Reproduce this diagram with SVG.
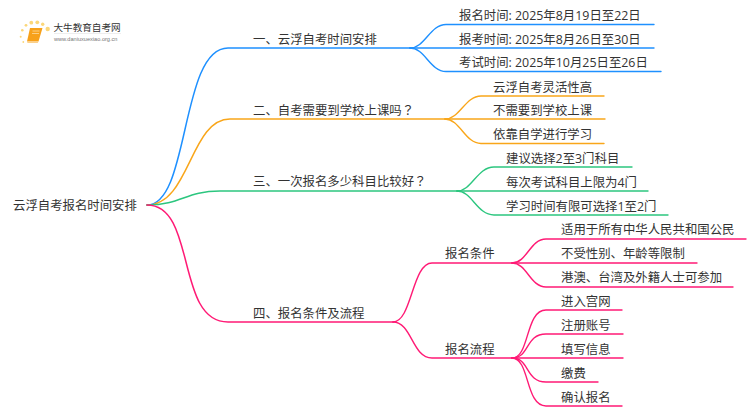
<svg xmlns="http://www.w3.org/2000/svg" width="750" height="410" viewBox="0 0 750 410">
<style>
text{font-family:"Open Sans","Noto Sans CJK SC",sans-serif;font-size:12.4px;fill:#333}
.q{font-family:"Noto Sans CJK TC",sans-serif}
.c{fill:none;stroke-width:1.4;stroke-linecap:round}
.m{stroke-width:1.5}
.b{stroke:#1e90ff}.o{stroke:#f9a61a}.g{stroke:#2cc67f}.p{stroke:#ff1a75}
</style>
<rect width="750" height="410" fill="#fff"/>
<g id="connectors">
<path class="c m b" d="M147 205C190 205 180 48 228 48H410"/>
<path class="c m o" d="M147 205C190 205 190 119 230 119H445"/>
<path class="c m g" d="M147 205C182 205 185 191 220 191H457"/>
<path class="c m p" d="M147 205C197 205 175 322 228 322H393"/>
<path class="c b" d="M410 48C425 48 430 24.500 446 24.500H654"/>
<path class="c b" d="M410 48H654"/>
<path class="c b" d="M410 48C425 48 430 71.500 446 71.500H661"/>
<path class="c o" d="M445 119C460 119 465 96 481 96H604"/>
<path class="c o" d="M445 119H605"/>
<path class="c o" d="M445 119C460 119 465 143.500 481 143.500H604"/>
<path class="c g" d="M457 191C472 191 477 167 494 167H632"/>
<path class="c g" d="M457 191H648"/>
<path class="c g" d="M457 191C472 191 477 215 494 215H668"/>
<path class="c p" d="M393 322C412 322 412 263 432 263H512"/>
<path class="c p" d="M393 322C412 322 412 358 432 358H512"/>
<path class="c p" d="M512 263C527 263 530 239 546 239H746"/>
<path class="c p" d="M512 263H697"/>
<path class="c p" d="M512 263C527 263 530 287 546 287H733"/>
<path class="c p" d="M512 358C530 358 525 310 546 310H622"/>
<path class="c p" d="M512 358C530 358 525 334 546 334H623"/>
<path class="c p" d="M512 358H623"/>
<path class="c p" d="M512 358C530 358 525 382 546 382H598"/>
<path class="c p" d="M512 358C530 358 525 406 546 406H622"/>
</g>
<g id="root"><text x="13" y="210">云浮自考报名时间安排</text></g>
<g id="n1"><text x="253" y="44">一、云浮自考时间安排</text></g>
<g id="n1a"><text x="459" y="20">报名时间: 2025年8月19日至22日</text></g>
<g id="n1b"><text x="459" y="44">报考时间: 2025年8月26日至30日</text></g>
<g id="n1c"><text x="459" y="67">考试时间: 2025年10月25日至26日</text></g>
<g id="n2"><text x="253" y="115">二、自考需要到学校上课吗<tspan class="q">？</tspan></text></g>
<g id="n2a"><text x="493" y="92">云浮自考灵活性高</text></g>
<g id="n2b"><text x="493" y="115">不需要到学校上课</text></g>
<g id="n2c"><text x="493" y="139">依靠自学进行学习</text></g>
<g id="n3"><text x="253" y="186">三、一次报名多少科目比较好<tspan class="q">？</tspan></text></g>
<g id="n3a"><text x="506" y="163">建议选择2至3门科目</text></g>
<g id="n3b"><text x="506" y="187">每次考试科目上限为4门</text></g>
<g id="n3c"><text x="506" y="211">学习时间有限可选择1至2门</text></g>
<g id="n4"><text x="253" y="318">四、报名条件及流程</text></g>
<g id="n41"><text x="445" y="258">报名条件</text></g>
<g id="n41a"><text x="561" y="234">适用于所有中华人民共和国公民</text></g>
<g id="n41b"><text x="561" y="258">不受性别、年龄等限制</text></g>
<g id="n41c"><text x="561" y="282">港澳、台湾及外籍人士可参加</text></g>
<g id="n42"><text x="445" y="353.500">报名流程</text></g>
<g id="n42a"><text x="561" y="306">进入宫网</text></g>
<g id="n42b"><text x="561" y="330">注册账号</text></g>
<g id="n42c"><text x="561" y="354">填写信息</text></g>
<g id="n42d"><text x="561" y="378">缴费</text></g>
<g id="n42e"><text x="561" y="402">确认报名</text></g>
<g id="logo">
<g fill="#fbd77a"><circle cx="47.700" cy="29" r="2.200"/><circle cx="42.700" cy="24.300" r="1.700"/><circle cx="37.300" cy="22.300" r="1.900"/><circle cx="31.300" cy="22.700" r="1.900"/><circle cx="26" cy="25.300" r="1.400"/><circle cx="22.300" cy="30.300" r="1.300"/><circle cx="20.700" cy="36.700" r="1"/><circle cx="23.300" cy="42" r=".9"/></g>
<path d="M30 28H42.500L38.500 41.500H27Z" fill="#f7a11a"/>
<path d="M27 41.500H38.500L37.800 43H27.500Z" fill="#fbd08a"/>
<path d="M32.500 31H39.500M32 33.500H39" stroke="#fde3b0" stroke-width=".7"/>
<text x="53.500" y="31" style="font-size:9.600px">大牛教育自考网</text>
<rect x="54" y="33" width="67" height=".5" fill="#ddd"/>
<text x="54" y="41" style="font-size:5.600px;fill:#777;font-family:'Liberation Sans',sans-serif">www.daniuxuexiao.org.cn</text>
</g>
</svg>
